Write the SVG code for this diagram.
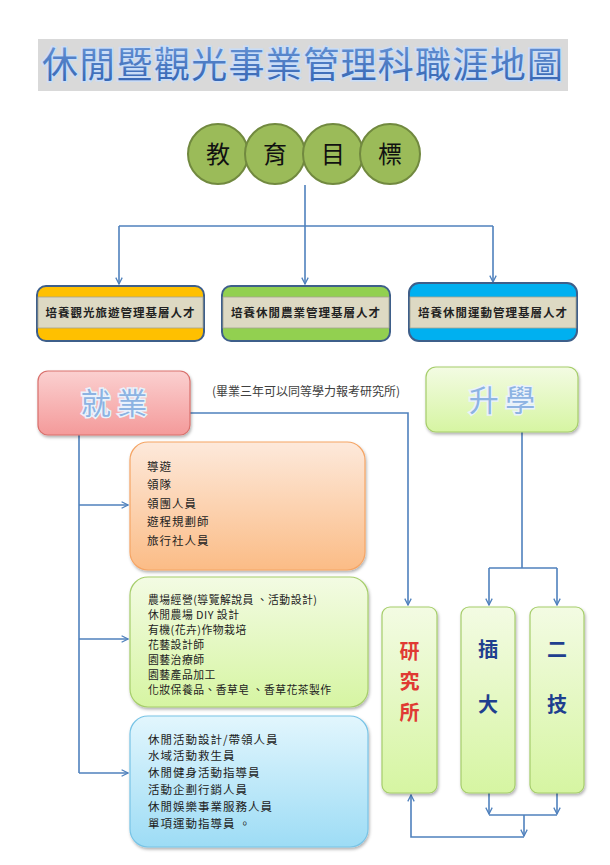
<svg xmlns="http://www.w3.org/2000/svg" width="610" height="865" viewBox="0 0 610 865">
<defs>
<style>
.cjk{font-family:"Noto Sans CJK TC","Noto Sans CJK SC",sans-serif;}
.conn{fill:none;stroke:#4F81BD;stroke-width:1.6;}
.item{font-size:11.5px;fill:#222;letter-spacing:1px;}
.item2{font-size:10.8px;fill:#222;letter-spacing:0.5px;}
.band{font-size:11.5px;fill:#222;font-weight:bold;letter-spacing:1px;}
.circ{fill:#9BBB59;stroke:#71893F;stroke-width:2;}
.big{font-size:24px;fill:#111;}
.glow{fill:#8DB3E2;stroke:#EAF2FC;stroke-width:3;paint-order:stroke;font-size:30px;}
.vgreen{fill:url(#gGreen);stroke:#A6CE6B;stroke-width:1.2;}
.vred{font-size:20px;font-weight:bold;fill:#E03A33;}
.vblue{font-size:20px;font-weight:bold;fill:#1F3F8F;}
</style>
<marker id="arr" viewBox="0 0 10 10" refX="9" refY="5" markerWidth="8" markerHeight="8" orient="auto" markerUnits="userSpaceOnUse">
<path d="M1,1 L9,5 L1,9" fill="none" stroke="#4F81BD" stroke-width="1.6"/>
</marker>
<linearGradient id="gTitle" x1="0" y1="0" x2="0" y2="1"><stop offset="0" stop-color="#6E9BDB"/><stop offset="1" stop-color="#2F5FAE"/></linearGradient>
<linearGradient id="gPink" x1="0" y1="0" x2="0" y2="1"><stop offset="0" stop-color="#FBD0D0"/><stop offset="1" stop-color="#F49A9A"/></linearGradient>
<linearGradient id="gGreen" x1="0" y1="0" x2="0" y2="1"><stop offset="0" stop-color="#F3FBE3"/><stop offset="1" stop-color="#D6F5A2"/></linearGradient>
<linearGradient id="gOrange" x1="0" y1="0" x2="0" y2="1"><stop offset="0" stop-color="#FDE9DB"/><stop offset="1" stop-color="#FBBC86"/></linearGradient>
<linearGradient id="gBlue" x1="0" y1="0" x2="0" y2="1"><stop offset="0" stop-color="#E2F6FD"/><stop offset="1" stop-color="#9DDCF5"/></linearGradient>
<filter id="sh" x="-10%" y="-10%" width="130%" height="130%"><feDropShadow dx="1" dy="2" stdDeviation="1.5" flood-color="#000" flood-opacity="0.3"/></filter>
</defs>
<rect width="610" height="865" fill="#FFFFFF"/>

<g id="title">
<rect x="38" y="39" width="530" height="52" fill="#D9D9D9"/>
<text class="cjk" x="42" y="78" font-size="36" textLength="521" lengthAdjust="spacing" fill="url(#gTitle)" stroke="#C9DDF7" stroke-width="3" paint-order="stroke">休閒暨觀光事業管理科職涯地圖</text>
</g>

<g id="connectors">
<path class="conn" d="M305,185 V226"/>
<path class="conn" d="M119,226 H493"/>
<path class="conn" d="M119,226 V284" marker-end="url(#arr)"/>
<path class="conn" d="M305,226 V284" marker-end="url(#arr)"/>
<path class="conn" d="M493,226 V282" marker-end="url(#arr)"/>
<path class="conn" d="M190,413 H408 V605" marker-end="url(#arr)"/>
<path class="conn" d="M79,435 V773"/>
<path class="conn" d="M79,505 H128" marker-end="url(#arr)"/>
<path class="conn" d="M79,639 H128" marker-end="url(#arr)"/>
<path class="conn" d="M79,773 H128" marker-end="url(#arr)"/>
<path class="conn" d="M522,432 V568"/>
<path class="conn" d="M489,568 H557"/>
<path class="conn" d="M489,568 V605" marker-end="url(#arr)"/>
<path class="conn" d="M557,568 V605" marker-end="url(#arr)"/>
<path class="conn" d="M489,793 V814" marker-end="url(#arr)"/>
<path class="conn" d="M557,793 V814" marker-end="url(#arr)"/>
<path class="conn" d="M489,815 H557"/>
<path class="conn" d="M524,815 V836" marker-end="url(#arr)"/>
<path class="conn" d="M524,837 H411 V795" marker-end="url(#arr)"/>
</g>

<g id="goal">
<circle class="circ" cx="218" cy="154" r="30"/>
<circle class="circ" cx="275" cy="154" r="30"/>
<circle class="circ" cx="333" cy="154" r="30"/>
<circle class="circ" cx="390" cy="154" r="30"/>
<text class="cjk big" x="218" y="163" text-anchor="middle">教</text>
<text class="cjk big" x="275" y="163" text-anchor="middle">育</text>
<text class="cjk big" x="333" y="163" text-anchor="middle">目</text>
<text class="cjk big" x="390" y="163" text-anchor="middle">標</text>
</g>

<g id="talent1">
<rect x="37" y="286" width="167" height="55" rx="9" fill="#FFC000" stroke="#3E5F8A" stroke-width="2"/>
<rect x="38" y="297" width="165" height="31" fill="#DDD9C3" stroke="#A6A48F" stroke-width="0.8"/>
<text class="cjk band" x="120.5" y="317" text-anchor="middle">培養觀光旅遊管理基層人才</text>
</g>
<g id="talent2">
<rect x="222" y="286" width="168" height="55" rx="9" fill="#92D050" stroke="#3E5F8A" stroke-width="2"/>
<rect x="223" y="297" width="166" height="31" fill="#DDD9C3" stroke="#A6A48F" stroke-width="0.8"/>
<text class="cjk band" x="306" y="317" text-anchor="middle">培養休閒農業管理基層人才</text>
</g>
<g id="talent3">
<rect x="409" y="283" width="168" height="58" rx="10" fill="#00B0F0" stroke="#3E5F8A" stroke-width="2"/>
<rect x="410" y="297" width="166" height="31" fill="#DDD9C3" stroke="#A6A48F" stroke-width="0.8"/>
<text class="cjk band" x="493" y="317" text-anchor="middle">培養休閒運動管理基層人才</text>
</g>

<g id="employment">
<rect x="38" y="371" width="152" height="64" rx="10" fill="url(#gPink)" stroke="#D9706C" stroke-width="1.2" filter="url(#sh)"/>
<text class="cjk glow" x="114" y="414" text-anchor="middle">就 業</text>
</g>

<text class="cjk" x="306" y="396" text-anchor="middle" font-size="12" fill="#404040">(畢業三年可以同等學力報考研究所)</text>

<g id="further">
<rect x="426" y="367" width="152" height="65" rx="10" fill="url(#gGreen)" stroke="#A6CE6B" stroke-width="1.2" filter="url(#sh)"/>
<text class="cjk glow" x="502" y="411" text-anchor="middle">升 學</text>
</g>

<g id="jobs-tourism">
<rect x="130" y="442" width="235" height="128" rx="18" fill="url(#gOrange)" stroke="#F5A565" stroke-width="1.2" filter="url(#sh)"/>
<text class="cjk item" x="147" y="471">導遊</text>
<text class="cjk item" x="147" y="489">領隊</text>
<text class="cjk item" x="147" y="508">領團人員</text>
<text class="cjk item" x="147" y="526">遊程規劃師</text>
<text class="cjk item" x="147" y="545">旅行社人員</text>
</g>

<g id="jobs-farm">
<rect x="130" y="577" width="238" height="130" rx="18" fill="url(#gGreen)" stroke="#A6CE6B" stroke-width="1.2" filter="url(#sh)"/>
<text class="cjk item2" x="148" y="604">農場經營(導覽解說員 、活動設計)</text>
<text class="cjk item2" x="148" y="619">休閒農場 DIY 設計</text>
<text class="cjk item2" x="148" y="634">有機(花卉)作物栽培</text>
<text class="cjk item2" x="148" y="649">花藝設計師</text>
<text class="cjk item2" x="148" y="664">園藝治療師</text>
<text class="cjk item2" x="148" y="679">園藝產品加工</text>
<text class="cjk item2" x="148" y="694">化妝保養品、香草皂 、香草花茶製作</text>
</g>

<g id="jobs-sport">
<rect x="130" y="716" width="238" height="131" rx="18" fill="url(#gBlue)" stroke="#78C4E6" stroke-width="1.2" filter="url(#sh)"/>
<text class="cjk item" x="148" y="744">休閒活動設計/帶領人員</text>
<text class="cjk item" x="148" y="760">水域活動救生員</text>
<text class="cjk item" x="148" y="777">休閒健身活動指導員</text>
<text class="cjk item" x="148" y="794">活動企劃行銷人員</text>
<text class="cjk item" x="148" y="811">休閒娛樂事業服務人員</text>
<text class="cjk item" x="148" y="828">單項運動指導員 。</text>
</g>

<g id="graduate">
<rect class="vgreen" x="382" y="607" width="55" height="186" rx="8" filter="url(#sh)"/>
<text class="cjk vred" x="409.5" y="659" text-anchor="middle">研</text>
<text class="cjk vred" x="409.5" y="689" text-anchor="middle">究</text>
<text class="cjk vred" x="409.5" y="720" text-anchor="middle">所</text>
</g>
<g id="transfer">
<rect class="vgreen" x="461" y="607" width="54" height="186" rx="8" filter="url(#sh)"/>
<text class="cjk vblue" x="488" y="657" text-anchor="middle">插</text>
<text class="cjk vblue" x="488" y="712" text-anchor="middle">大</text>
</g>
<g id="tech">
<rect class="vgreen" x="530" y="607" width="54" height="186" rx="8" filter="url(#sh)"/>
<text class="cjk vblue" x="557" y="657" text-anchor="middle">二</text>
<text class="cjk vblue" x="557" y="712" text-anchor="middle">技</text>
</g>
</svg>
